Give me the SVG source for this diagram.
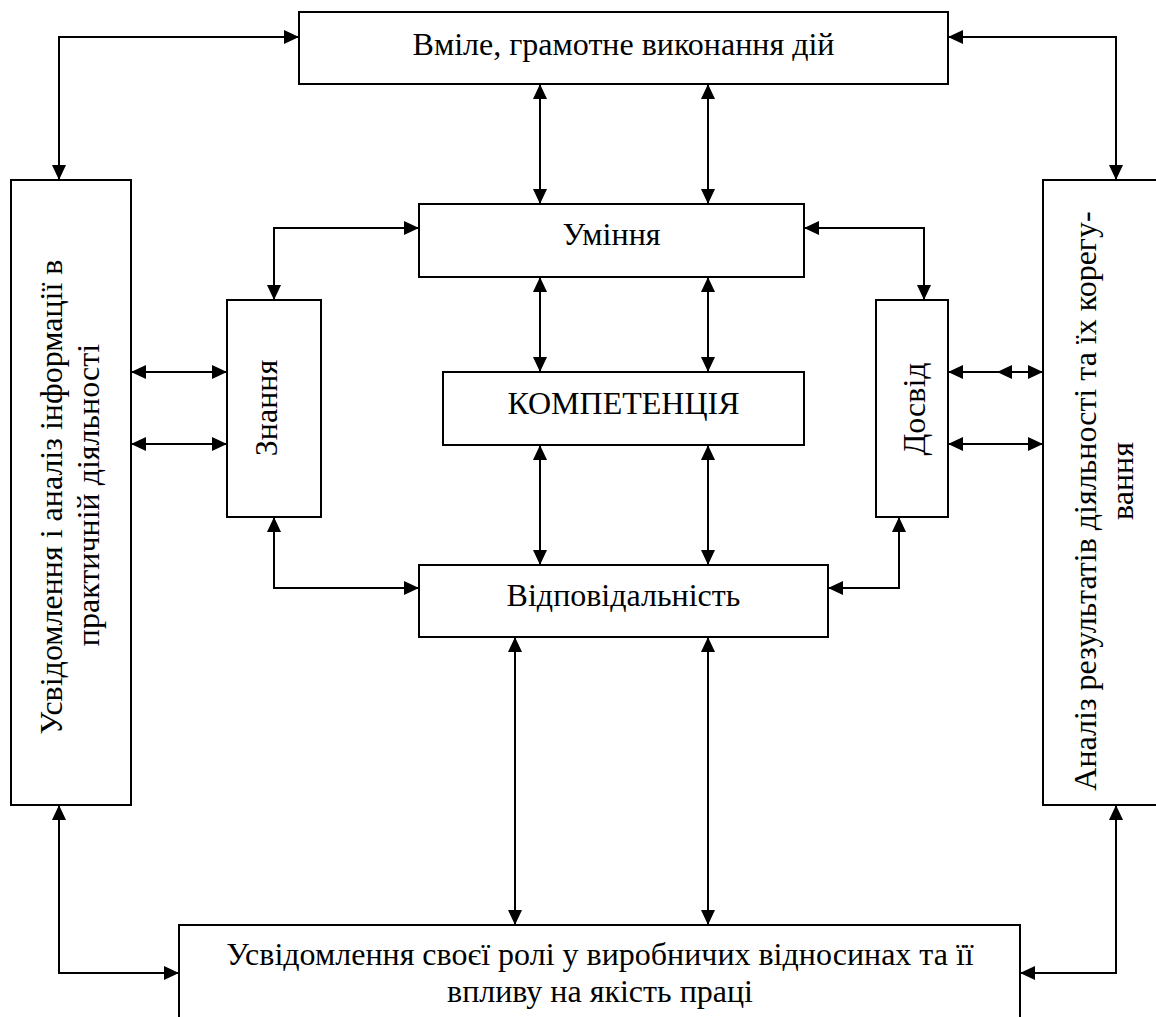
<svg xmlns="http://www.w3.org/2000/svg" width="1156" height="1017" viewBox="0 0 1156 1017">
<style>
.box{fill:#fff;stroke:#000;stroke-width:2}
.t{font-family:"Liberation Serif","Times New Roman",serif;font-size:32px;fill:#000}
.c{text-anchor:middle}
.ln{fill:none;stroke:#000;stroke-width:2}
.b{marker-start:url(#ah);marker-end:url(#ah)}
.e{marker-end:url(#ah)}
</style>
<defs>
<marker id="ah" viewBox="0 0 15 14" refX="15" refY="7" markerWidth="15" markerHeight="14" markerUnits="userSpaceOnUse" orient="auto-start-reverse">
<path d="M0,0 L15,7 L0,14 z" fill="#000"/>
</marker>
</defs>
<rect width="1156" height="1017" fill="#fff"/>
<g id="connectors">
<path class="ln b" d="M299,37 H59 V180"/>
<path class="ln b" d="M948,37 H1116 V180"/>
<path class="ln b" d="M59,805 V973 H179"/>
<path class="ln b" d="M1116,805 V973 H1020"/>
<path class="ln b" d="M540,84 V204"/>
<path class="ln b" d="M708,84 V204"/>
<path class="ln b" d="M540,277 V372"/>
<path class="ln b" d="M708,277 V372"/>
<path class="ln b" d="M540,445 V565"/>
<path class="ln b" d="M708,445 V565"/>
<path class="ln b" d="M515,637 V925"/>
<path class="ln b" d="M708,637 V925"/>
<path class="ln b" d="M419,228 H274 V300"/>
<path class="ln b" d="M274,517 V588 H419"/>
<path class="ln b" d="M804,228 H924 V300"/>
<path class="ln b" d="M899,517 V588 H828"/>
<path class="ln b" d="M131,372 H227"/>
<path class="ln b" d="M131,444 H227"/>
<path class="ln b" d="M948,372 H1043"/>
<path class="ln e" d="M1043,372 H1089"/>
<path class="ln e" d="M1012,372 H997"/>
<path class="ln b" d="M948,444 H1043"/>
</g>
<g id="top">
<rect class="box" x="299" y="12" width="649" height="72"/>
<text class="t c" x="623.5" y="55">Вміле, грамотне виконання дій</text>
</g>
<g id="left">
<rect class="box" x="11" y="180" width="120" height="625"/>
<text class="t c" transform="translate(62,497) rotate(-90)">Усвідомлення і аналіз інформації в</text>
<text class="t c" transform="translate(99,495) rotate(-90)">практичній діяльності</text>
</g>
<g id="right">
<rect class="box" x="1043" y="180" width="130" height="625"/>
<text class="t c" transform="translate(1096,501) rotate(-90)">Аналіз результатів діяльності та їх корегу-</text>
<text class="t c" transform="translate(1133,481) rotate(-90)">вання</text>
</g>
<g id="umin">
<rect class="box" x="419" y="204" width="385" height="73"/>
<text class="t c" x="611.5" y="245">Уміння</text>
</g>
<g id="komp">
<rect class="box" x="443" y="372" width="361" height="73"/>
<text class="t c" x="623.5" y="414">КОМПЕТЕНЦІЯ</text>
</g>
<g id="vidp">
<rect class="box" x="419" y="565" width="409" height="72"/>
<text class="t c" x="623.5" y="606">Відповідальність</text>
</g>
<g id="znan">
<rect class="box" x="227" y="300" width="94" height="217"/>
<text class="t c" transform="translate(277,408) rotate(-90)">Знання</text>
</g>
<g id="dosv">
<rect class="box" x="876" y="300" width="72" height="217"/>
<text class="t c" transform="translate(925,409) rotate(-90)">Досвід</text>
</g>
<g id="bottom">
<rect class="box" x="179" y="925" width="841" height="110"/>
<text class="t c" x="600" y="965">Усвідомлення своєї ролі у виробничих відносинах та її</text>
<text class="t c" x="600" y="1002">впливу на якість праці</text>
</g>
</svg>
